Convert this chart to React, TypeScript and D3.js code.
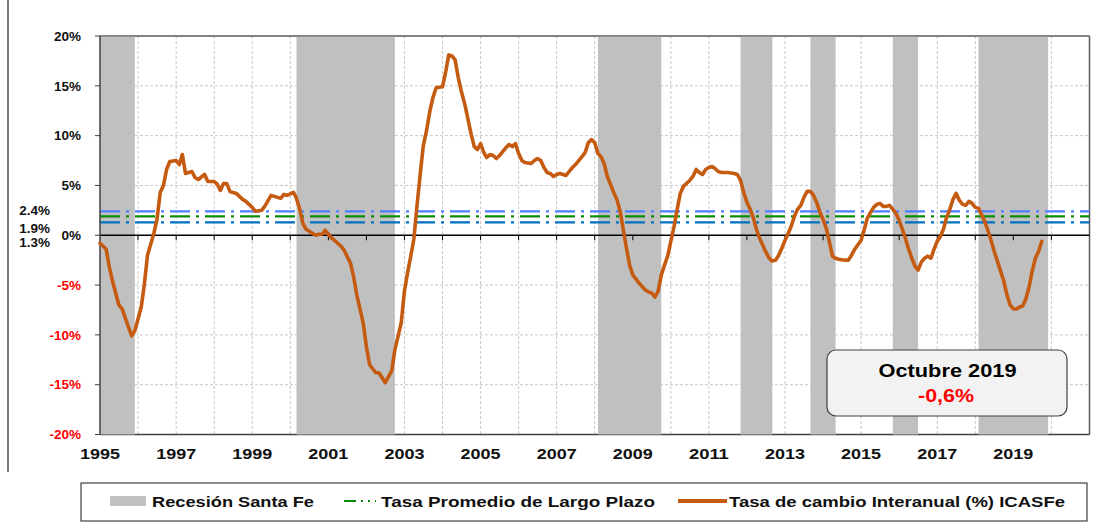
import React from 'react'
import * as d3 from 'd3'

const parseMonth = d3.timeParse('%Y-%m')

// Recesión Santa Fe: start / end month of each shaded period
const recessionStart = ['1995-01', '2000-03', '2008-02', '2011-11', '2013-09', '2015-11', '2018-02']
const recessionEnd = ['1995-12', '2002-10', '2009-10', '2012-09', '2014-05', '2016-07', '2019-12']

// Tasa promedio de largo plazo (three reference levels)
const longRunRates = [2.4, 1.9, 1.3]
const longRunColors = ['#4d7fff', '#0a8a0a', '#0070c0']
const longRunLabels = ['2.4%', '1.9%', '1.3%']

const yTicks = [20, 15, 10, 5, 0, -5, -10, -15, -20]
const yearLabels = [1995, 1997, 1999, 2001, 2003, 2005, 2007, 2009, 2011, 2013, 2015, 2017, 2019]

// ICASFe year-on-year change: [months since Jan 1995, %]
const icasfe: [number, number][] = [
  [0, -0.8], [1, -1.1], [2, -1.4], [3, -3.2], [4, -4.6], [6, -7.0], [7, -7.4], [9, -9.2],
  [10, -10.1], [11, -9.6], [12, -8.4], [13, -7.2], [14, -5.0], [15, -2.0], [17, 0.2], [18, 1.6],
  [19, 4.3], [20, 5.0], [21, 6.6], [22, 7.4], [24, 7.5], [25, 7.1], [26, 8.1], [27, 6.2],
  [29, 6.4], [30, 5.8], [31, 5.6], [33, 6.1], [34, 5.4], [36, 5.4], [37, 5.1], [38, 4.5],
  [39, 5.2], [40, 5.2], [41, 4.4], [43, 4.2], [45, 3.6], [46, 3.4], [48, 2.8], [49, 2.4],
  [51, 2.5], [52, 2.9], [54, 4.0], [56, 3.8], [57, 3.7], [58, 4.1], [59, 4.0], [61, 4.3],
  [62, 3.7], [63, 2.6], [64, 1.2], [65, 0.6], [66, 0.4], [68, 0.0], [69, 0.1], [70, 0.1],
  [71, 0.5], [72, 0.1], [73, -0.3], [74, -0.5], [76, -1.1], [77, -1.5], [79, -2.8], [80, -4.2],
  [81, -6.0], [83, -8.8], [84, -11.2], [85, -13.0], [87, -13.8], [88, -13.8], [89, -14.3], [90, -14.8],
  [91, -14.2], [92, -13.6], [93, -11.5], [95, -8.8], [96, -5.6], [97, -3.7], [98, -2.2], [99, -0.4],
  [100, 2.9], [101, 6.1], [102, 9.0], [103, 10.5], [104, 12.4], [105, 13.8], [106, 14.8], [108, 14.9],
  [109, 16.4], [110, 18.1], [111, 18.0], [112, 17.6], [113, 15.8], [114, 14.4], [115, 13.2], [117, 10.2],
  [118, 8.9], [119, 8.6], [120, 9.2], [121, 8.3], [122, 7.8], [123, 8.1], [124, 8.0], [125, 7.7],
  [126, 8.0], [128, 8.8], [129, 9.1], [130, 8.9], [131, 9.2], [132, 8.2], [133, 7.5], [134, 7.3],
  [136, 7.2], [137, 7.5], [138, 7.7], [139, 7.5], [140, 6.8], [141, 6.3], [142, 6.2], [143, 5.9],
  [144, 6.1], [145, 6.2], [147, 6.0], [148, 6.4], [149, 6.8], [150, 7.1], [152, 7.9], [153, 8.3],
  [154, 9.3], [155, 9.6], [156, 9.3], [157, 8.2], [158, 7.9], [159, 7.2], [160, 5.9], [161, 5.1],
  [162, 4.3], [163, 3.6], [164, 2.4], [165, 0.6], [166, -1.3], [167, -3.0], [168, -4.0], [169, -4.4],
  [170, -4.8], [172, -5.5], [173, -5.7], [174, -5.8], [175, -6.2], [176, -5.6], [177, -4.0], [178, -3.0],
  [179, -2.1], [180, -0.6], [181, 0.9], [182, 2.5], [183, 4.2], [184, 4.9], [185, 5.2], [186, 5.5],
  [187, 5.9], [188, 6.6], [189, 6.3], [190, 6.1], [191, 6.6], [192, 6.8], [193, 6.9], [194, 6.7],
  [195, 6.4], [196, 6.3], [198, 6.3], [200, 6.2], [201, 6.1], [202, 5.5], [203, 4.3], [204, 3.3],
  [205, 2.6], [206, 1.8], [207, 0.6], [208, -0.3], [209, -1.0], [210, -1.7], [211, -2.3], [212, -2.6],
  [213, -2.5], [214, -2.0], [215, -1.3], [216, -0.5], [217, 0.2], [218, 0.9], [219, 1.9], [220, 2.6],
  [221, 3.0], [222, 3.8], [223, 4.4], [224, 4.4], [225, 4.0], [226, 3.3], [227, 2.3], [228, 1.6],
  [229, 0.7], [230, -0.6], [231, -2.1], [232, -2.3], [233, -2.4], [235, -2.5], [236, -2.5], [237, -2.0],
  [238, -1.4], [240, -0.5], [241, 0.6], [242, 1.7], [243, 2.3], [244, 2.8], [245, 3.1], [246, 3.2],
  [247, 2.9], [248, 2.9], [249, 3.0], [250, 2.6], [251, 2.2], [252, 1.5], [253, 0.6], [254, -0.3],
  [255, -1.4], [256, -2.3], [257, -3.1], [258, -3.5], [259, -2.7], [260, -2.3], [261, -2.1], [262, -2.3],
  [263, -1.4], [264, -0.6], [265, -0.1], [266, 0.6], [267, 1.8], [268, 2.6], [269, 3.6], [270, 4.2],
  [271, 3.5], [272, 3.1], [273, 3.0], [274, 3.4], [275, 3.2], [276, 2.8], [277, 2.7], [278, 2.1],
  [279, 1.4], [280, 0.5], [281, -0.5], [282, -1.6], [283, -2.6], [284, -3.6], [285, -4.6], [286, -6.0],
  [287, -7.0], [288, -7.4], [289, -7.4], [290, -7.2], [291, -7.1], [292, -6.4], [293, -5.2], [294, -3.6],
  [295, -2.3], [296, -1.6], [297, -0.6],
]

const FONT = '"Liberation Sans", Arial, sans-serif'
const ORANGE = '#c55a11'

export default function App() {
  const W = 1094
  const H = 531
  const left = 100
  const right = 1089.5
  const top = 36
  const bottom = 434.5

  const x = d3.scaleTime()
    .domain([new Date(1995, 0, 1), new Date(2021, 0, 1)])
    .range([left, right])
  const y = d3.scaleLinear().domain([-20, 20]).range([bottom, top])

  const monthX = (m: number) => x(new Date(1995, m, 1))
  const line = d3.line<[number, number]>()
    .x(d => monthX(d[0]))
    .y(d => y(d[1]))

  const gridYears = d3.range(1996, 2021)
  const gridVals = [15, 10, 5, -5, -10, -15]
  const zeroY = y(0)

  return (
    <svg width={W} height={H} style={{ position: 'absolute', left: 0, top: 0, background: '#fff', fontFamily: FONT }}>
      {/* outer chart frame (left edge) */}
      <line x1={8} x2={8} y1={0} y2={472} stroke="#222" strokeWidth={1.2} />

      {/* dashed gridlines */}
      {gridYears.map(yr => (
        <line key={'gx' + yr} x1={x(new Date(yr, 0, 1))} x2={x(new Date(yr, 0, 1))} y1={top} y2={bottom}
          stroke="#c8c8c8" strokeWidth={1} strokeDasharray="3 2" />
      ))}
      {gridVals.map(v => (
        <line key={'gy' + v} x1={left} x2={right} y1={y(v)} y2={y(v)}
          stroke="#c8c8c8" strokeWidth={1} strokeDasharray="3 2" />
      ))}

      {/* plot frame */}
      <line x1={left} x2={right} y1={top} y2={top} stroke="#595959" strokeWidth={1.5} />
      <line x1={right} x2={right} y1={top} y2={bottom} stroke="#595959" strokeWidth={1.5} />
      <line x1={left} x2={right} y1={bottom} y2={bottom} stroke="#404040" strokeWidth={1.5} />

      {/* recession bands */}
      {recessionStart.map((s, i) => {
        const x0 = x(parseMonth(s) as Date)
        const x1 = x(parseMonth(recessionEnd[i]) as Date)
        return <rect key={'r' + i} x={x0} y={top + 0.8} width={x1 - x0} height={bottom - top - 0.8} fill="#c0c0c0" />
      })}

      {/* long-run average lines */}
      {longRunRates.map((v, i) => (
        <line key={'lr' + i} x1={left} x2={right} y1={y(v)} y2={y(v)}
          stroke={longRunColors[i]} strokeWidth={2.2} strokeDasharray="20 6 3 6" />
      ))}

      {/* zero axis with yearly ticks */}
      <line x1={left} x2={right} y1={zeroY} y2={zeroY} stroke="#000" strokeWidth={1.5} />
      {gridYears.map(yr => (
        <line key={'tx' + yr} x1={x(new Date(yr, 0, 1))} x2={x(new Date(yr, 0, 1))} y1={zeroY} y2={zeroY + 5}
          stroke="#000" strokeWidth={1} />
      ))}

      {/* y axis */}
      <line x1={left} x2={left} y1={top} y2={bottom} stroke="#404040" strokeWidth={1.5} />
      {yTicks.map(v => (
        <g key={'yt' + v}>
          <line x1={left - 5} x2={left} y1={y(v)} y2={y(v)} stroke="#404040" strokeWidth={1} />
          <text x={81} y={y(v) + 4.8} textAnchor="end" fontSize={13.5} fontWeight="bold"
            fill={v < 0 ? '#ff0000' : '#111'}>{v}%</text>
        </g>
      ))}

      {/* long-run labels */}
      {longRunLabels.map((t, i) => (
        <text key={'ll' + i} x={50} y={214.5 + [0, 18, 32][i]} textAnchor="end" fontSize={13.5}
          fontWeight="bold" fill="#111">{t}</text>
      ))}

      {/* ICASFe line */}
      <path d={line(icasfe) || ''} fill="none" stroke={ORANGE} strokeWidth={3.6}
        strokeLinejoin="round" strokeLinecap="round" />

      {/* x labels */}
      {yearLabels.map(yr => (
        <text key={'xl' + yr} x={x(new Date(yr, 0, 1))} y={459} textAnchor="middle" fontSize={15.5}
          fontWeight="bold" fill="#111" textLength={40} lengthAdjust="spacingAndGlyphs">{yr}</text>
      ))}

      {/* annotation box */}
      <rect x={827} y={350} width={240} height={66} rx={9} fill="#f2f2f2" stroke="#404040" strokeWidth={1.2} />
      <text x={947.5} y={377} textAnchor="middle" fontSize={18} fontWeight="bold" fill="#000"
        textLength={138} lengthAdjust="spacingAndGlyphs">Octubre 2019</text>
      <text x={946} y={402} textAnchor="middle" fontSize={18} fontWeight="bold" fill="#ff0000"
        textLength={56} lengthAdjust="spacingAndGlyphs">-0,6%</text>

      {/* legend */}
      <rect x={81} y={483} width={1006} height={38} fill="#fff" stroke="#404040" strokeWidth={1.2} />
      <rect x={110} y={496} width={36} height={10} fill="#c0c0c0" />
      <text x={152} y={507} fontSize={15.5} fontWeight="bold" fill="#111" textLength={162}
        lengthAdjust="spacingAndGlyphs">Recesión Santa Fe</text>
      <line x1={344} x2={376} y1={501} y2={501} stroke="#0a8a0a" strokeWidth={2.2} strokeDasharray="12 5 2 5 2 5" />
      <text x={381} y={507} fontSize={15.5} fontWeight="bold" fill="#111" textLength={274}
        lengthAdjust="spacingAndGlyphs">Tasa Promedio de Largo Plazo</text>
      <line x1={678} x2={727} y1={501} y2={501} stroke={ORANGE} strokeWidth={4} />
      <text x={729} y={507} fontSize={15.5} fontWeight="bold" fill="#111" textLength={336}
        lengthAdjust="spacingAndGlyphs">Tasa de cambio Interanual (%) ICASFe</text>
    </svg>
  )
}
